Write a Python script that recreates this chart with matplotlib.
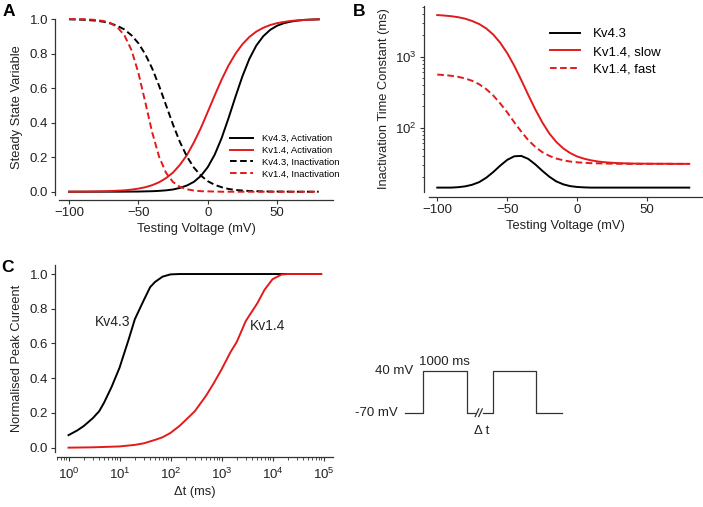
import numpy as np
import matplotlib
matplotlib.use("Agg")
import matplotlib.pyplot as plt
from matplotlib.ticker import LogLocator, NullFormatter

plt.rcParams["font.family"] = ["Liberation Sans", "DejaVu Sans"]
plt.rcParams["mathtext.fontset"] = "custom"
plt.rcParams["mathtext.rm"] = "Liberation Sans"
plt.rcParams["mathtext.it"] = "Liberation Sans:italic"
plt.rcParams["axes.linewidth"] = 0.9

RED = "#e31a1c"
INK = "#222222"

# ---- panel A / B: voltage grid (mV) ----
voltage = [-100, -95, -90, -85, -80, -75, -70, -65, -60, -55, -50, -45, -40, -35,
           -30, -25, -20, -15, -10, -5, 0, 5, 10, 15, 20, 25, 30, 35, 40, 45, 50,
           55, 60, 65, 70, 75, 80]

# steady state variables
kv43_act = [0.0, 0.0, 0.0, 0.0, 0.0001, 0.0001, 0.0002, 0.0002, 0.0004, 0.0007,
            0.001, 0.002, 0.003, 0.005, 0.008, 0.013, 0.022, 0.036, 0.057, 0.091,
            0.142, 0.214, 0.310, 0.426, 0.550, 0.668, 0.769, 0.846, 0.900, 0.937,
            0.961, 0.976, 0.985, 0.991, 0.995, 0.997, 0.998]
kv14_act = [0.0004, 0.0006, 0.0008, 0.0012, 0.0018, 0.0027, 0.004, 0.0058, 0.008,
            0.012, 0.018, 0.026, 0.038, 0.055, 0.079, 0.111, 0.156, 0.212, 0.285,
            0.368, 0.462, 0.557, 0.649, 0.731, 0.799, 0.854, 0.896, 0.927, 0.949,
            0.965, 0.976, 0.983, 0.989, 0.992, 0.995, 0.996, 0.998]
kv43_inact = [0.998, 0.997, 0.996, 0.993, 0.990, 0.984, 0.974, 0.960, 0.939, 0.906,
              0.860, 0.796, 0.713, 0.612, 0.500, 0.388, 0.287, 0.204, 0.140, 0.094,
              0.061, 0.040, 0.026, 0.016, 0.010, 0.007, 0.004, 0.003, 0.002, 0.001,
              0.001, 0.001, 0.0, 0.0, 0.0, 0.0, 0.0]
kv14_inact = [1.0, 0.999, 0.999, 0.997, 0.994, 0.988, 0.976, 0.951, 0.905, 0.821,
              0.689, 0.518, 0.343, 0.201, 0.109, 0.056, 0.028, 0.014, 0.007, 0.003,
              0.002, 0.001, 0.0, 0.0, 0.0, 0.0, 0.0, 0.0, 0.0, 0.0, 0.0, 0.0, 0.0,
              0.0, 0.0, 0.0, 0.0]

# inactivation time constants (ms)
tau_kv43 = [14.3, 14.3, 14.3, 14.5, 14.9, 15.7, 17.1, 19.7, 23.7, 29.2, 35.2, 39.5,
            40.0, 36.3, 30.4, 24.7, 20.4, 17.5, 15.9, 15.0, 14.6, 14.4, 14.3, 14.3,
            14.3, 14.3, 14.3, 14.3, 14.3, 14.3, 14.3, 14.3, 14.3, 14.3, 14.3, 14.3,
            14.3]
tau_kv14_slow = [3860, 3800, 3720, 3600, 3430, 3180, 2880, 2500, 2050, 1570, 1120,
                 745, 469, 289, 181, 119, 83, 63, 51, 43.8, 39.2, 36.5, 34.6, 33.3,
                 32.5, 32.0, 31.6, 31.4, 31.2, 31.1, 31.1, 31.0, 31.0, 31.0, 30.9,
                 30.9, 30.9]
tau_kv14_fast = [560, 551, 538, 520, 493, 457, 408, 349, 284, 219, 164, 119, 88,
                 66.7, 53.6, 45.2, 40.1, 36.7, 34.7, 33.3, 32.5, 31.9, 31.6, 31.4,
                 31.2, 31.1, 31.0, 30.9, 30.9, 30.9, 30.9, 30.9, 30.9, 30.9, 30.9,
                 30.9, 30.9]

# ---- panel C: recovery from inactivation ----
dt_kv43 = [1, 1.5, 2, 3, 4, 5, 7, 10, 15, 20, 30, 40, 50, 70, 100, 150, 1e3, 1e4, 9e4]
rec_kv43 = [0.072, 0.10, 0.125, 0.17, 0.21, 0.26, 0.35, 0.46, 0.62, 0.74, 0.85,
            0.925, 0.955, 0.985, 0.998, 1.0, 1.0, 1.0, 1.0]
dt_kv14 = [1, 3, 10, 20, 30, 50, 70, 100, 150, 200, 300, 500, 700, 1000, 1500,
           2000, 3000, 5000, 7000, 10000, 15000, 20000, 90000]
rec_kv14 = [0.0, 0.002, 0.007, 0.016, 0.025, 0.045, 0.06, 0.085, 0.125, 0.16, 0.21,
            0.30, 0.37, 0.45, 0.55, 0.61, 0.73, 0.83, 0.91, 0.97, 0.997, 1.0, 1.0]

# ---- protocol sketch (arbitrary time units, mV) ----
proto_t = [0, 18, 18, 62, 62, 70, np.nan, 78, 88, 88, 131, 131, 157]
proto_v = [-70, -70, 40, 40, -70, -70, np.nan, -70, -70, 40, 40, -70, -70]
break_t = [72, 75.5]

W, H = 703, 507
fig = plt.figure(figsize=(W / 100, H / 100), dpi=100)


def px_axes(left, top, right, bottom):
    return fig.add_axes([left / W, 1 - bottom / H, (right - left) / W, (bottom - top) / H])


def style(ax, left_off, bottom_off):
    for s in ("top", "right"):
        ax.spines[s].set_visible(False)
    ax.spines["left"].set_position(("outward", left_off * 0.72))
    ax.spines["bottom"].set_position(("outward", bottom_off * 0.72))
    for s in ("left", "bottom"):
        ax.spines[s].set_color("#333333")
    ax.tick_params(direction="out", length=3, width=0.8, labelsize=9.5,
                   colors="#333333", labelcolor=INK, pad=2)
    ax.tick_params(which="minor", direction="out", length=1.8, width=0.6,
                   colors="#333333")
    ax.patch.set_visible(False)


# ---------------- A ----------------
axA = px_axes(59, 19, 333, 195)
style(axA, 4, 5)
dash = (0, (3.4, 1.8))
axA.plot(voltage, kv43_act, color="black", lw=1.4, label="Kv4.3, Activation", clip_on=False)
axA.plot(voltage, kv14_act, color=RED, lw=1.4, label="Kv1.4, Activation", clip_on=False)
axA.plot(voltage, kv43_inact, color="black", lw=1.4, ls=dash, label="Kv4.3, Inactivation", clip_on=False)
axA.plot(voltage, kv14_inact, color=RED, lw=1.4, ls=dash, label="Kv1.4, Inactivation", clip_on=False)
axA.set_xlim(-107.2, 90.3)
axA.set_ylim(-0.019, 1.0)
axA.set_xticks([-100, -50, 0, 50])
axA.set_yticks([0, 0.2, 0.4, 0.6, 0.8, 1.0])
axA.set_yticklabels(["0.0", "0.2", "0.4", "0.6", "0.8", "1.0"])
axA.set_xlabel("Testing Voltage (mV)", fontsize=9.3, color=INK, labelpad=3)
axA.set_ylabel("Steady State Variable", fontsize=9.3, color=INK, labelpad=5)
axA.legend(loc="upper left", bbox_to_anchor=(230 / W, 1 - 134 / H),
           bbox_transform=fig.transFigure, frameon=False, fontsize=6.8,
           handlelength=2.45, handletextpad=0.9, labelspacing=0.3,
           borderpad=0, borderaxespad=0)

# ---------------- B ----------------
axB = px_axes(429, 6, 702, 192)
style(axB, 5, 5)
axB.plot(voltage, tau_kv43, color="black", lw=1.4, label="Kv4.3")
axB.plot(voltage, tau_kv14_slow, color=RED, lw=1.4, label="Kv1.4, slow")
axB.plot(voltage, tau_kv14_fast, color=RED, lw=1.4, ls=dash, label="Kv1.4, fast")
axB.set_yscale("log")
axB.set_xlim(-105.9, 89.1)
axB.set_ylim(12.4, 5180)
axB.set_xticks([-100, -50, 0, 50])
axB.set_yticks([100, 1000])
axB.yaxis.set_minor_locator(LogLocator(base=10, subs=np.arange(2, 10), numticks=20))
axB.yaxis.set_minor_formatter(NullFormatter())
axB.set_xlabel("Testing Voltage (mV)", fontsize=9.3, color=INK, labelpad=3)
axB.set_ylabel("Inactivation Time Constant (ms)", fontsize=9.3, color=INK, labelpad=4)
axB.legend(loc="upper left", bbox_to_anchor=(550 / W, 1 - 28 / H),
           bbox_transform=fig.transFigure, frameon=False, fontsize=9.5,
           handlelength=2.3, handletextpad=0.95, labelspacing=0.42,
           borderpad=0, borderaxespad=0)

# ---------------- C ----------------
axC = px_axes(57, 265, 333, 452)
style(axC, 2, 4.7)
axC.plot(dt_kv43, rec_kv43, color="black", lw=1.4)
axC.plot(dt_kv14, rec_kv14, color=RED, lw=1.4)
axC.set_xscale("log")
axC.set_xlim(0.595, 153500)
axC.set_ylim(-0.025, 1.052)
axC.set_xticks([1, 10, 100, 1e3, 1e4, 1e5])
axC.xaxis.set_minor_locator(LogLocator(base=10, subs=np.arange(2, 10), numticks=30))
axC.xaxis.set_minor_formatter(NullFormatter())
axC.set_yticks([0, 0.2, 0.4, 0.6, 0.8, 1.0])
axC.set_yticklabels(["0.0", "0.2", "0.4", "0.6", "0.8", "1.0"])
axC.tick_params(axis="x", pad=4)
axC.set_xlabel("Δt (ms)", fontsize=9.3, color=INK, labelpad=3)
axC.set_ylabel("Normalised Peak Cureent", fontsize=9.3, color=INK, labelpad=5)
axC.text(7.45, 0.725, "Kv4.3", fontsize=10, color=INK, ha="center", va="center")
axC.text(7900, 0.70, "Kv1.4", fontsize=10, color=INK, ha="center", va="center")

# ---------------- protocol sketch ----------------
axP = px_axes(405, 370.7, 562, 412.7)
axP.set_xlim(0, 157)
axP.set_ylim(-70, 40)
axP.axis("off")
axP.plot(proto_t, proto_v, color="#333333", lw=0.9, clip_on=False)
for tb in break_t:
    axP.plot([tb - 1.8, tb + 1.8], [-80, -60], color="#333333", lw=0.9, clip_on=False)
axP.text(-7, -70, "-70 mV", fontsize=9.5, color=INK, ha="right", va="center")
axP.text(8, 40, "40 mV", fontsize=9.5, color=INK, ha="right", va="center")
axP.text(39.5, 62, "1000 ms", fontsize=9.5, color=INK, ha="center", va="center")
axP.text(76.7, -117, "Δ t", fontsize=9.5, color=INK, ha="center", va="center")

# panel letters
for lab, x, y in (("A", 9, 12), ("B", 359, 11), ("C", 8, 268)):
    fig.text(x / W, 1 - y / H, lab, fontsize=12.5, fontweight="bold",
             ha="center", va="center", color="black")

fig.savefig("out.png", dpi=100)
